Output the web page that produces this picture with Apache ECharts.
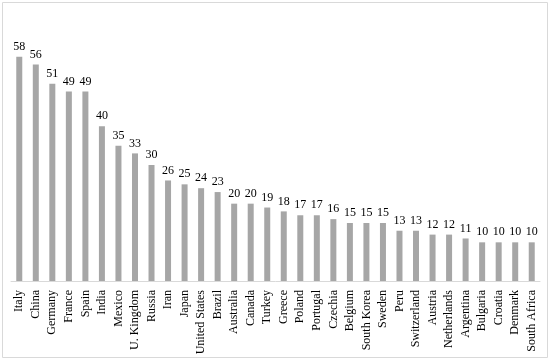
<!DOCTYPE html>
<html><head><meta charset="utf-8">
<script src="https://cdn.jsdelivr.net/npm/echarts@6/dist/echarts.min.js"></script>
<style>html,body{margin:0;padding:0;background:#fff}#c{width:550px;height:361px}</style>
</head><body><div id="c"></div>
<script>
const categories = ["Italy","China","Germany","France","Spain","India","Mexico","U. Kingdom","Russia","Iran","Japan","United States","Brazil","Australia","Canada","Turkey","Greece","Poland","Portugal","Czechia","Belgium","South Korea","Sweden","Peru","Switzerland","Austria","Netherlands","Argentina","Bulgaria","Croatia","Denmark","South Africa"];
const values = [58,56,51,49,49,40,35,33,30,26,25,24,23,20,20,19,18,17,17,16,15,15,15,13,13,12,12,11,10,10,10,10];
const chart = echarts.init(document.getElementById('c'));
const font = '"Liberation Serif","Times New Roman",serif';
chart.setOption({
  animation:false,
  graphic:[{type:'rect',shape:{x:2.5,y:2.5,width:545,height:355},style:{fill:'none',stroke:'#d9d9d9',lineWidth:1},silent:true}],
  grid:{left:11,right:10,top:49,bottom:80},
  xAxis:{type:'category',data:categories,
    axisLine:{lineStyle:{color:'#d9d9d9'}},axisTick:{show:false},
    axisLabel:{rotate:90,interval:0,color:'#000',fontFamily:font,fontSize:12,margin:9}},
  yAxis:{type:'value',min:0,max:60,show:false,splitLine:{show:false}},
  series:[{type:'bar',data:values,barWidth:6,itemStyle:{color:'#a6a6a6'},
    label:{show:true,position:'top',color:'#000',fontFamily:font,fontSize:12,distance:4}}]
});
</script></body></html>
